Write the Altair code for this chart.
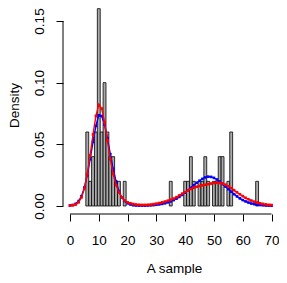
import altair as alt
import pandas as pd

# Histogram bars (bin centre, density)
bar_x = [6, 7, 8, 9, 10, 11, 12, 13, 14, 15, 16, 17, 19,
         35, 40, 41, 42, 43, 45, 46, 47, 48, 50, 51, 52, 53, 55, 56, 65]
bar_density = [0.06, 0.02, 0.04, 0.06, 0.16, 0.06, 0.10, 0.06, 0.04, 0.04, 0.02, 0.02, 0.02,
               0.02, 0.02, 0.02, 0.04, 0.02, 0.02, 0.02, 0.04, 0.02, 0.02, 0.02, 0.04, 0.04, 0.02, 0.06, 0.02]

# Density curves evaluated on a grid
curve_x = list(range(0, 71))
blue_y = [0.0004, 0.0008, 0.0018, 0.004, 0.008, 0.015, 0.025, 0.038, 0.052, 0.065,
          0.0735, 0.073, 0.066, 0.055, 0.042, 0.030, 0.020, 0.012, 0.007, 0.004,
          0.0022, 0.0012, 0.0006, 0.0004, 0.0003, 0.0003, 0.0003, 0.0004, 0.0005, 0.0007,
          0.001, 0.0013, 0.0017, 0.0022, 0.003, 0.0038, 0.0048, 0.006, 0.0074, 0.009,
          0.0108, 0.0128, 0.0148, 0.0168, 0.0188, 0.0205, 0.022, 0.0232, 0.0238, 0.0236,
          0.0228, 0.0215, 0.0198, 0.0178, 0.0158, 0.0137, 0.0116, 0.0096, 0.0078, 0.0062,
          0.0048, 0.0037, 0.0028, 0.002, 0.0015, 0.0011, 0.0008, 0.0006, 0.0004, 0.0003,
          0.0002]
red_y = [0.0003, 0.0006, 0.0012, 0.003, 0.007, 0.014, 0.026, 0.041, 0.058, 0.073,
         0.082, 0.079, 0.068, 0.053, 0.038, 0.026, 0.017, 0.011, 0.007, 0.0045,
         0.003, 0.0022, 0.0016, 0.0012, 0.001, 0.0009, 0.0009, 0.001, 0.0012, 0.0015,
         0.0019, 0.0024, 0.003, 0.0036, 0.0043, 0.0051, 0.006, 0.0072, 0.0086, 0.01,
         0.0113, 0.0126, 0.0138, 0.0148, 0.0156, 0.0162, 0.0167, 0.0172, 0.0177, 0.0182,
         0.0186, 0.0188, 0.0187, 0.0182, 0.0173, 0.016, 0.0145, 0.0128, 0.0111, 0.0095,
         0.008, 0.0066, 0.0054, 0.0044, 0.0035, 0.0028, 0.0022, 0.0017, 0.0013, 0.001,
         0.0008]

x_ticks = [0, 10, 20, 30, 40, 50, 60, 70]
y_ticks = [0, 0.05, 0.10, 0.15]

bars = pd.DataFrame({"x": bar_x, "d": bar_density})
blue_df = pd.DataFrame({"x": curve_x, "y": blue_y})
red_df = pd.DataFrame({"x": curve_x, "y": red_y})
xline = pd.DataFrame({"x": [x_ticks[0], x_ticks[-1]]})
yline = pd.DataFrame({"y": [y_ticks[0], y_ticks[-1]]})

FONT = "Liberation Sans"
FS = 13.5

X = alt.Scale(domain=[-2.432, 72.605], nice=False, zero=False, padding=0)
Y = alt.Scale(domain=[-0.00649, 0.16054], nice=False, zero=False, padding=0)

x_axis = alt.Axis(values=x_ticks, format="d", domain=False, grid=False,
                  tickSize=7, tickColor="black", tickWidth=1,
                  labelFont=FONT, labelFontSize=FS, labelColor="black",
                  labelBaseline="alphabetic", labelPadding=23, labelFlush=False,
                  labelOverlap=False,
                  titleFont=FONT, titleFontSize=FS, titleFontWeight="normal",
                  titleColor="black", titleBaseline="alphabetic", titleY=58,
                  titleX=111, titleAlign="center")
y_axis = alt.Axis(values=y_ticks, format=".2f", domain=False, grid=False,
                  tickSize=7, tickColor="black", tickWidth=1,
                  labelFont=FONT, labelFontSize=FS, labelColor="black",
                  labelAngle=270, labelAlign="center", labelBaseline="alphabetic",
                  labelPadding=12.7, labelFlush=False, labelOverlap=False,
                  titleFont=FONT, titleFontSize=FS, titleFontWeight="normal",
                  titleColor="black", titleBaseline="alphabetic", titleAngle=270,
                  titleX=-44.5, titleY=97, titleAlign="center")

XT = "A sample"
YT = "Density"

bar_layer = alt.Chart(bars).transform_calculate(
    x0="datum.x - 0.5", x1="datum.x + 0.5"
).mark_rect(fill="#ababab", stroke="black", strokeWidth=0.8).encode(
    x=alt.X("x0:Q", scale=X, axis=x_axis, title=XT),
    x2="x1:Q",
    y=alt.Y("d:Q", scale=Y, axis=y_axis, title=YT),
    y2=alt.datum(0),
)

def curve(df, color):
    return alt.Chart(df).mark_line(
        color=color, strokeWidth=1.4,
        point=alt.OverlayMarkDef(filled=True, color=color, size=7, shape="square"),
    ).encode(x=alt.X("x:Q", scale=X, axis=x_axis, title=XT),
             y=alt.Y("y:Q", scale=Y, axis=y_axis, title=YT))

x_rule = alt.Chart(xline).mark_line(color="black", strokeWidth=1).encode(
    x=alt.X("x:Q", scale=X, axis=x_axis, title=XT), y=alt.value(206))
y_rule = alt.Chart(yline).mark_line(color="black", strokeWidth=1).encode(
    y=alt.Y("y:Q", scale=Y, axis=y_axis, title=YT), x=alt.value(0))

chart = alt.layer(bar_layer, curve(blue_df, "blue"), curve(red_df, "red"), x_rule, y_rule).properties(
    width=216, height=206,
    padding={"left": 55, "top": 0, "right": 0, "bottom": 61},
    autosize=alt.AutoSizeParams(type="none"),
).configure_view(stroke=None)

chart.save("out.html", embed_options={"renderer": "svg", "actions": False})
